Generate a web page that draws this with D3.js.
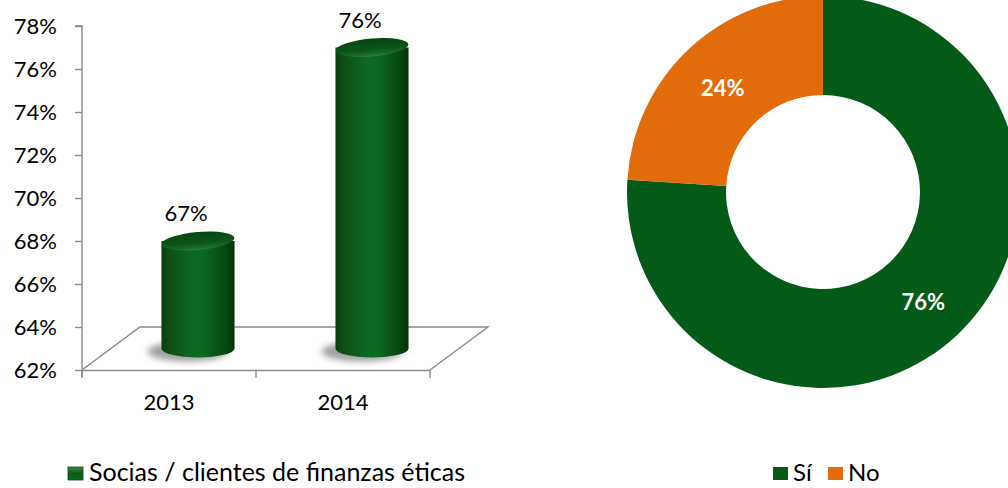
<!DOCTYPE html>
<html>
<head>
<meta charset="utf-8">
<script src="https://cdn.jsdelivr.net/npm/d3@7"></script>
<style>
  html, body { margin: 0; padding: 0; background: #fff; }
  svg { display: block; }
  text { font-family: Lato, "Open Sans", sans-serif; fill: #000; }
</style>
</head>
<body>
<svg id="chart" width="1008" height="488"></svg>
<script>
// Socias / clientes de finanzas éticas, por año
const years = ["2013", "2014"];
const shareByYear = [0.67, 0.76];
const yTicks = [0.62, 0.64, 0.66, 0.68, 0.70, 0.72, 0.74, 0.76, 0.78];
const barSeriesName = "Socias / clientes de finanzas éticas";

// Reparto Sí / No
const answers = ["Sí", "No"];
const answerShares = [0.76, 0.24];
const answerColors = ["#035b17", "#e36c0a"];

const svg = d3.select("#chart");
const defs = svg.append("defs");

// ---------- gradients and filters ----------
const bodyGrad = defs.append("linearGradient").attr("id", "cylBody")
  .attr("x1", "0%").attr("x2", "100%").attr("y1", "0%").attr("y2", "0%");
[["0%", "#0a3d0d"], ["12%", "#0e5016"], ["45%", "#0b6a22"], ["58%", "#0a6820"],
 ["85%", "#074b11"], ["100%", "#043107"]].forEach(([o, c]) =>
  bodyGrad.append("stop").attr("offset", o).attr("stop-color", c));

const topGrad = defs.append("linearGradient").attr("id", "cylTop")
  .attr("x1", "0%").attr("x2", "0%").attr("y1", "0%").attr("y2", "100%");
[["0%", "#0a4410"], ["60%", "#0b5518"], ["85%", "#16692a"], ["100%", "#2b7e3b"]].forEach(([o, c]) =>
  topGrad.append("stop").attr("offset", o).attr("stop-color", c));

const legGrad = defs.append("linearGradient").attr("id", "legGrad")
  .attr("x1", "0%").attr("x2", "0%").attr("y1", "0%").attr("y2", "100%");
[["0%", "#3a8a3a"], ["50%", "#0b5a18"], ["100%", "#0a6a20"]].forEach(([o, c]) =>
  legGrad.append("stop").attr("offset", o).attr("stop-color", c));

defs.append("filter").attr("id", "softShadow")
  .attr("x", "-50%").attr("y", "-50%").attr("width", "200%").attr("height", "200%")
  .append("feGaussianBlur").attr("stdDeviation", 3);

// ---------- 3D column chart ----------
const y = d3.scaleLinear().domain([0.62, 0.78]).range([370, 26]);
const x = d3.scaleBand().domain(years).range([82, 430]).padding(0);
const depthX = 58, depthY = -43;          // floor depth offset
const axisColor = "#8a8a8a";
const pct = d3.format(".0%");

const bars = svg.append("g");

// floor
const x0 = x.range()[0], x1 = x.range()[1], yFloor = y(0.62);
bars.append("path")
  .attr("d", `M${x0},${yFloor} L${x0 + depthX},${yFloor + depthY} L${x1 + depthX},${yFloor + depthY} L${x1},${yFloor}`)
  .attr("fill", "#fff").attr("stroke", axisColor).attr("stroke-width", 1.4);

// value axis
const yAxis = bars.append("g").attr("transform", `translate(${x0},0)`)
  .call(d3.axisLeft(y).tickValues(yTicks).tickFormat(pct).tickSize(7).tickPadding(18));
yAxis.select(".domain").attr("stroke", axisColor).attr("stroke-width", 1.4)
  .attr("d", `M-7,${y(0.78)}H0V${yFloor + 7}`);
yAxis.selectAll(".tick line").attr("stroke", axisColor).attr("stroke-width", 1.4);
yAxis.selectAll(".tick text").attr("font-size", 22).attr("fill", "#111")
  .attr("font-family", "Lato, sans-serif");

// category axis
const xAxis = bars.append("g").attr("transform", `translate(0,${yFloor})`)
  .call(d3.axisBottom(x).tickSize(0).tickPadding(24));
xAxis.select(".domain").attr("stroke", axisColor).attr("stroke-width", 1.4);
xAxis.selectAll(".tick text").attr("font-size", 22).attr("fill", "#111")
  .attr("font-family", "Lato, sans-serif");
// category separators
const bounds = [x0].concat(years.map(d => x(d) + x.bandwidth()));
xAxis.selectAll(".sep").data(bounds).join("line").attr("class", "sep")
  .attr("x1", d => d).attr("x2", d => d).attr("y1", 0).attr("y2", 8)
  .attr("stroke", axisColor).attr("stroke-width", 1.4);

// cylinders
const rx = x.bandwidth() * 0.21, ry = 9;
const midX = depthX / 2, midY = depthY / 2;
const cyl = bars.selectAll(".cyl").data(years.map((d, i) => ({ year: d, v: shareByYear[i] })))
  .join("g").attr("class", "cyl");

cyl.each(function (d) {
  const g = d3.select(this);
  const cx = x(d.year) + x.bandwidth() / 2 + midX;
  const yb = y(0.62) + midY;
  const yt = y(d.v) + midY;
  // ground shadow
  g.append("ellipse").attr("cx", cx - 10).attr("cy", yb + 3).attr("rx", rx + 4).attr("ry", ry + 1)
    .attr("fill", "#777").attr("opacity", 0.7).attr("filter", "url(#softShadow)");
  // body
  g.append("path")
    .attr("d", `M${cx - rx},${yt} L${cx - rx},${yb} A${rx},${ry} 0 0 0 ${cx + rx},${yb} L${cx + rx},${yt} Z`)
    .attr("fill", "url(#cylBody)");
  // top cap
  g.append("ellipse").attr("cx", cx).attr("cy", yt).attr("rx", rx).attr("ry", ry)
    .attr("transform", `rotate(-5,${cx},${yt})`)
    .attr("fill", "url(#cylTop)");
  // value label
  g.append("text").attr("x", cx - 12).attr("y", yt - 20)
    .attr("text-anchor", "middle").attr("font-size", 22).attr("fill", "#111")
    .text(pct(d.v));
});

// bar legend
const legL = svg.append("g").attr("transform", "translate(68,467)");
legL.append("rect").attr("width", 15).attr("height", 13).attr("fill", "url(#legGrad)")
  .attr("stroke", "#0a4a12").attr("stroke-width", 0.8);
legL.append("text").attr("x", 21).attr("y", 14).attr("font-size", 25).attr("fill", "#111")
  .text(barSeriesName);

// ---------- donut ----------
const cx = 823, cy = 192, rOuter = 196, rInner = 97;
const pie = d3.pie().sort(null).value(d => d)(answerShares);
const arc = d3.arc().innerRadius(rInner).outerRadius(rOuter);
const donut = svg.append("g").attr("transform", `translate(${cx},${cy})`);
donut.selectAll("path").data(pie).join("path")
  .attr("d", arc).attr("fill", (d, i) => answerColors[i]);
donut.selectAll("text").data(pie).join("text")
  .attr("transform", d => `translate(${arc.centroid(d)})`)
  .attr("text-anchor", "middle").attr("dy", "0.5em")
  .attr("font-size", 22).attr("font-weight", 700).style("fill", "#fff")
  .text(d => pct(d.data));

// donut legend
const legR = svg.append("g").attr("transform", "translate(773,467)");
const legItems = legR.selectAll("g").data(answers).join("g")
  .attr("transform", (d, i) => `translate(${i * 55},0)`);
legItems.append("rect").attr("width", 15).attr("height", 13)
  .attr("fill", (d, i) => answerColors[i]);
legItems.append("text").attr("x", 20).attr("y", 14).attr("font-size", 24).attr("fill", "#111")
  .text(d => d);
</script>
</body>
</html>
